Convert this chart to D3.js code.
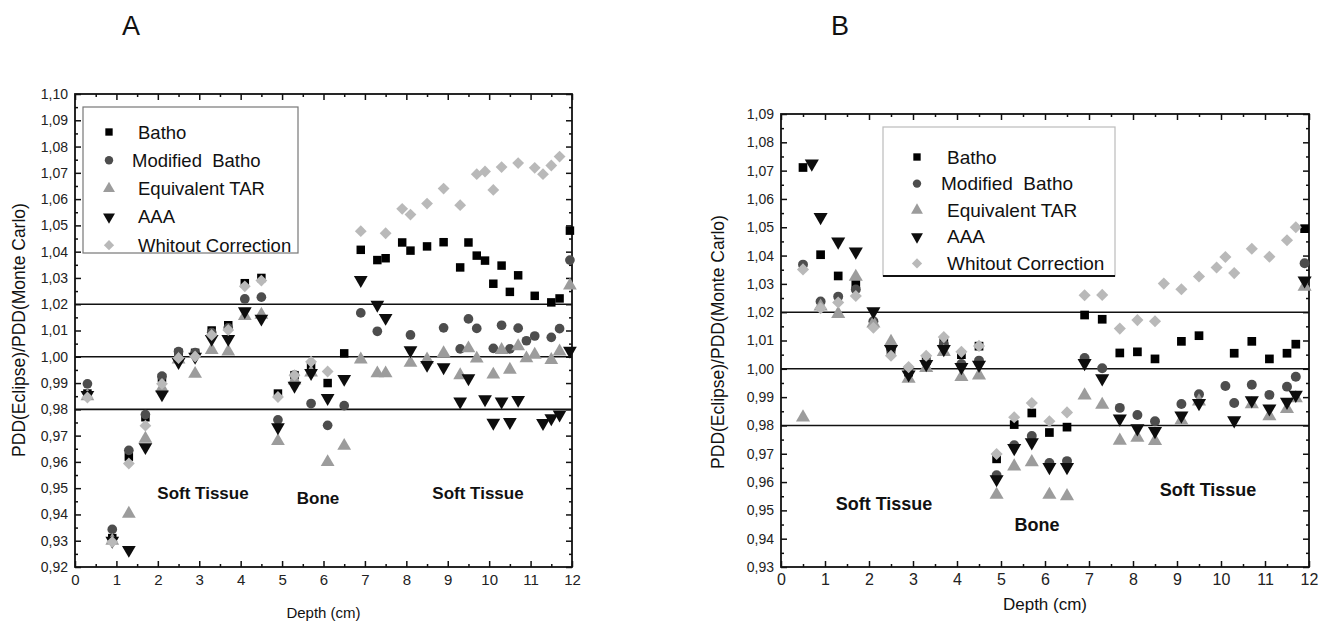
<!DOCTYPE html>
<html>
<head>
<meta charset="utf-8">
<script src="https://cdn.jsdelivr.net/npm/d3@7"></script>
<style>
  body { margin: 0; background: #fff; }
  svg text { font-family: "Liberation Sans", Arial, sans-serif; white-space: pre; }
</style>
</head>
<body>
<svg id="chart" width="1324" height="627"></svg>
<script>
// ---- data: [depth (cm), PDD(Eclipse)/PDD(Monte Carlo)] ----
const seriesNames = ["Batho", "Modified  Batho", "Equivalent TAR", "AAA", "Whitout Correction"];

// panel A
const aBatho = [[0.3,0.986],[0.9,0.931],[1.3,0.962],[1.7,0.977],[2.1,0.992],[2.5,1.0015],[2.9,1.0015],[3.3,1.010],[3.7,1.012],[4.1,1.028],[4.5,1.030],[4.9,0.986],[5.3,0.993],[5.7,0.9965],[6.1,0.990],[6.5,1.0013],[6.9,1.0407],[7.3,1.0368],[7.5,1.0375],[7.9,1.0435],[8.1,1.0404],[8.5,1.042],[8.9,1.0436],[9.3,1.034],[9.5,1.0435],[9.7,1.0385],[9.9,1.0366],[10.1,1.0278],[10.3,1.0347],[10.5,1.0247],[10.7,1.031],[11.1,1.0232],[11.5,1.0207],[11.7,1.0222],[11.95,1.048]];
const aModBatho = [[0.3,0.9897],[0.9,0.9343],[1.3,0.9644],[1.7,0.978],[2.1,0.9926],[2.5,1.002],[2.9,1.0016],[3.3,1.0092],[3.7,1.011],[4.1,1.022],[4.5,1.0227],[4.9,0.976],[5.3,0.993],[5.7,0.9822],[6.1,0.9739],[6.5,0.9814],[6.9,1.0167],[7.3,1.0097],[8.1,1.0083],[8.9,1.011],[9.3,1.003],[9.5,1.0144],[9.7,1.0108],[10.1,1.0032],[10.3,1.012],[10.5,1.003],[10.7,1.0109],[10.9,1.0061],[11.1,1.0079],[11.5,1.0074],[11.7,1.0107],[11.95,1.0368]];
const aEqTAR = [[0.3,0.985],[0.9,0.930],[1.3,0.9403],[1.7,0.9688],[2.1,0.988],[2.5,0.999],[2.9,0.9935],[3.3,1.0026],[3.7,1.002],[4.1,1.0155],[4.5,1.016],[4.9,0.9679],[5.3,0.991],[5.7,0.994],[6.1,0.9599],[6.5,0.9661],[6.9,0.999],[7.3,0.9937],[7.5,0.9937],[8.1,0.9977],[8.5,0.999],[8.9,1.0014],[9.3,0.993],[9.5,1.0032],[9.7,0.9993],[10.1,0.9932],[10.3,1.0026],[10.5,0.9951],[10.7,1.004],[10.9,0.9994],[11.1,1.0008],[11.5,0.9988],[11.7,1.002],[11.95,1.0271]];
const aAAA = [[0.3,0.9855],[0.9,0.930],[1.3,0.9265],[1.7,0.9656],[2.1,0.9857],[2.5,0.998],[2.9,1.0],[3.3,1.0068],[3.7,1.0068],[4.1,1.0173],[4.5,1.0145],[4.9,0.9732],[5.3,0.989],[5.7,0.9938],[6.1,0.9843],[6.5,0.9916],[6.9,1.0292],[7.3,1.0198],[7.5,1.0148],[8.1,1.0025],[8.5,0.9969],[8.9,0.996],[9.3,0.983],[9.5,0.9918],[9.9,0.9838],[10.1,0.9749],[10.3,0.983],[10.5,0.9752],[10.7,0.9836],[11.3,0.9748],[11.5,0.9766],[11.7,0.978],[11.95,1.0023]];
const aNoCorr = [[0.3,0.9845],[0.9,0.9295],[1.3,0.9594],[1.7,0.9738],[2.1,0.9897],[2.5,0.9995],[2.9,1.0001],[3.3,1.0083],[3.7,1.0102],[4.1,1.0268],[4.5,1.029],[4.9,0.9847],[5.3,0.993],[5.7,0.9981],[6.1,0.9944],[6.9,1.0478],[7.5,1.047],[7.9,1.0563],[8.1,1.0541],[8.5,1.0583],[8.9,1.064],[9.3,1.0577],[9.7,1.0695],[9.9,1.0705],[10.1,1.0635],[10.3,1.0722],[10.7,1.0737],[11.1,1.0719],[11.3,1.0695],[11.5,1.0728],[11.7,1.0762]];

// panel B
const bBatho = [[0.5,1.0711],[0.9,1.0403],[1.3,1.0328],[1.7,1.0301],[2.1,1.016],[2.5,1.0064],[2.9,0.9988],[3.3,1.003],[3.7,1.0093],[4.1,1.005],[4.5,1.008],[4.9,0.9682],[5.3,0.9803],[5.7,0.9844],[6.1,0.9775],[6.5,0.9794],[6.9,1.019],[7.3,1.0175],[7.7,1.0056],[8.1,1.006],[8.5,1.0035],[9.1,1.0097],[9.5,1.0117],[10.3,1.0055],[10.7,1.0097],[11.1,1.0035],[11.5,1.0055],[11.7,1.0087],[11.9,1.0495]];
const bModBatho = [[0.5,1.0368],[0.9,1.0238],[1.3,1.0255],[1.7,1.028],[2.1,1.0168],[2.5,1.007],[2.9,1.0],[3.3,1.0023],[3.7,1.0087],[4.1,1.0017],[4.5,1.0029],[4.9,0.9624],[5.3,0.973],[5.7,0.9763],[6.1,0.9667],[6.5,0.9674],[6.9,1.0038],[7.3,1.0002],[7.7,0.9862],[8.1,0.9837],[8.5,0.9815],[9.1,0.9876],[9.5,0.991],[10.1,0.9939],[10.3,0.9879],[10.7,0.9944],[11.1,0.9908],[11.5,0.9937],[11.7,0.9972],[11.9,1.0373]];
const bEqTAR = [[0.5,0.9828],[0.9,1.022],[1.3,1.0194],[1.7,1.0325],[2.1,1.016],[2.5,1.0095],[2.9,0.9965],[3.3,1.0003],[3.7,1.006],[4.1,0.9971],[4.5,0.9977],[4.9,0.9555],[5.3,0.9655],[5.7,0.967],[6.1,0.9555],[6.5,0.955],[6.9,0.9906],[7.3,0.9873],[7.7,0.9746],[8.1,0.9757],[8.5,0.9745],[9.1,0.9818],[9.5,0.9885],[10.7,0.9875],[11.1,0.9833],[11.5,0.9858],[11.7,0.9896],[11.9,1.029]];
const bAAA = [[0.7,1.0725],[0.9,1.0536],[1.3,1.0449],[1.7,1.0414],[2.1,1.0203],[2.5,1.007],[2.9,0.998],[3.3,1.0017],[3.7,1.007],[4.1,1.0006],[4.5,1.0014],[4.9,0.961],[5.3,0.972],[5.7,0.974],[6.1,0.9653],[6.5,0.9653],[6.9,1.002],[7.3,0.9966],[7.7,0.9824],[8.1,0.979],[8.5,0.978],[9.1,0.9835],[9.5,0.9879],[10.3,0.9818],[10.7,0.9889],[11.1,0.986],[11.5,0.9883],[11.7,0.9908],[11.9,1.0312]];
const bNoCorr = [[0.5,1.0351],[0.9,1.0214],[1.3,1.0234],[1.7,1.0257],[2.1,1.0145],[2.5,1.0046],[2.9,1.0006],[3.3,1.0046],[3.7,1.0112],[4.1,1.006],[4.5,1.0081],[4.9,0.9699],[5.3,0.9829],[5.7,0.9879],[6.1,0.9815],[6.5,0.9846],[6.9,1.026],[7.3,1.0261],[7.7,1.0142],[8.1,1.0172],[8.5,1.0168],[8.7,1.0301],[9.1,1.0281],[9.5,1.0326],[9.9,1.0358],[10.1,1.0395],[10.3,1.0338],[10.7,1.0424],[11.1,1.0396],[11.5,1.0454],[11.7,1.05]];

const refLines = [0.98, 1.00, 1.02];
const xTicks = d3.range(0, 13, 1);

// marker look for each series, same order as seriesNames
const markerType = [d3.symbolSquare, d3.symbolCircle, d3.symbolTriangle, d3.symbolTriangle, d3.symbolSquare];
const markerRot = [0, 0, 0, 180, 45];
const markerSize = [72, 74, 82, 82, 70];
const markerColor = ["#000", "#4d4d4d", "#9c9c9c", "#0d0d0d", "#b9b9b9"];

const svg = d3.select("#chart");
const comma = d => d3.format(".2f")(d).replace(".", ",");

function drawPanel(p) {
  const x = d3.scaleLinear().domain([0, 12]).range([p.left, p.right]);
  const y = d3.scaleLinear().domain(p.yDomain).range([p.bottom, p.top]);
  const g = svg.append("g");

  const yMajor = d3.range(Math.round(p.yDomain[0] * 100), Math.round(p.yDomain[1] * 100) + 1).map(v => v / 100);
  const yMinor = yMajor.slice(0, -1).map(v => v + 0.005);
  const xMinor = d3.range(0.5, 12, 1);

  // ticks on all four sides, pointing into the plot
  const ax = [
    [d3.axisBottom(x).tickValues(xTicks).tickFormat(d => d), `translate(0,${p.bottom})`, true, p.xTickFont],
    [d3.axisBottom(x).tickValues(xMinor).tickFormat(""), `translate(0,${p.bottom})`, false, 0],
    [d3.axisTop(x).tickValues(xTicks).tickFormat(""), `translate(0,${p.top})`, true, 0],
    [d3.axisTop(x).tickValues(xMinor).tickFormat(""), `translate(0,${p.top})`, false, 0],
    [d3.axisLeft(y).tickValues(yMajor).tickFormat(comma), `translate(${p.left},0)`, true, p.yTickFont],
    [d3.axisLeft(y).tickValues(yMinor).tickFormat(""), `translate(${p.left},0)`, false, 0],
    [d3.axisRight(y).tickValues(yMajor).tickFormat(""), `translate(${p.right},0)`, true, 0],
    [d3.axisRight(y).tickValues(yMinor).tickFormat(""), `translate(${p.right},0)`, false, 0]
  ];
  ax.forEach(([a, tr, major, font]) => {
    const s = g.append("g").attr("transform", tr)
      .call(a.tickSizeInner(major ? -6 : -3).tickSizeOuter(0).tickPadding(major ? 7 : 0));
    s.select(".domain").remove();
    s.selectAll("line").attr("stroke", "#111").attr("stroke-width", 1.5);
    s.selectAll("text").attr("fill", "#222").style("font-size", font + "px");
  });

  // reference lines
  g.selectAll(".ref").data(refLines).join("line")
    .attr("x1", p.left).attr("x2", p.right)
    .attr("y1", d => y(d)).attr("y2", d => y(d))
    .attr("stroke", "#111").attr("stroke-width", 1.6);

  // frame
  g.append("rect")
    .attr("x", p.left).attr("y", p.top)
    .attr("width", p.right - p.left).attr("height", p.bottom - p.top)
    .attr("fill", "none").attr("stroke", "#111").attr("stroke-width", 1.8);

  // points
  p.series.forEach((data, i) => {
    g.append("g").selectAll("path").data(data).join("path")
      .attr("d", d3.symbol().type(markerType[i]).size(markerSize[i] * p.mScale))
      .attr("transform", d => `translate(${x(d[0])},${y(d[1])}) rotate(${markerRot[i]})`)
      .attr("fill", markerColor[i]);
  });

  // region labels
  p.regions.forEach(r => {
    g.append("text").attr("x", r[1]).attr("y", r[2])
      .attr("text-anchor", "middle").attr("dominant-baseline", "central")
      .style("font-size", p.regionFont + "px").style("font-weight", "bold")
      .attr("fill", "#111").text(r[0]);
  });

  // legend
  const L = p.legend;
  const lg = g.append("g");
  lg.append("rect").attr("x", L.x).attr("y", L.y).attr("width", L.w).attr("height", L.h)
    .attr("fill", "#fff").attr("stroke", L.stroke).attr("stroke-width", 1.2);
  if (L.underline) {
    lg.append("line").attr("x1", L.x).attr("x2", L.x + L.w)
      .attr("y1", L.y + L.h).attr("y2", L.y + L.h)
      .attr("stroke", "#111").attr("stroke-width", 1.8);
  }
  seriesNames.forEach((name, i) => {
    const yy = L.y + L.first + i * L.step;
    lg.append("path")
      .attr("d", d3.symbol().type(markerType[i]).size(markerSize[i] * 0.75))
      .attr("transform", `translate(${L.mx},${yy}) rotate(${markerRot[i]})`)
      .attr("fill", markerColor[i]);
    lg.append("text").attr("x", i === 1 ? L.tx - 6 : L.tx).attr("y", yy)
      .attr("dominant-baseline", "central")
      .style("font-size", L.font + "px").attr("fill", "#111").text(name);
  });

  // axis titles and panel letter
  g.append("text").attr("x", (p.left + p.right) / 2).attr("y", p.xTitleY)
    .attr("text-anchor", "middle").attr("dominant-baseline", "central")
    .style("font-size", p.titleFont + "px").attr("fill", "#111").text("Depth (cm)");
  g.append("text")
    .attr("transform", `translate(${p.yTitleX},${p.yTitleY}) rotate(-90)`)
    .attr("text-anchor", "middle").attr("dominant-baseline", "central")
    .style("font-size", p.yTitleFont + "px").attr("fill", "#111")
    .text("PDD(Eclipse)/PDD(Monte Carlo)");
  g.append("text").attr("x", p.letter[1]).attr("y", p.letter[2])
    .attr("text-anchor", "middle").attr("dominant-baseline", "central")
    .style("font-size", "27px").attr("fill", "#111").text(p.letter[0]);
}

drawPanel({
  left: 75, right: 572, top: 94, bottom: 567, yDomain: [0.92, 1.10],
  series: [aBatho, aModBatho, aEqTAR, aAAA, aNoCorr], mScale: 1,
  xTickFont: 15, yTickFont: 14, regionFont: 17, titleFont: 15, yTitleFont: 17.5,
  xTitleY: 612, yTitleX: 19, yTitleY: 330,
  regions: [["Soft Tissue", 203, 493], ["Bone", 318, 498], ["Soft Tissue", 478, 493]],
  legend: { x: 83, y: 107, w: 215, h: 146, first: 25, step: 28.3, mx: 109, tx: 138, font: 18.5, stroke: "#777" },
  letter: ["A", 131, 26]
});

drawPanel({
  left: 781, right: 1309, top: 114, bottom: 567, yDomain: [0.93, 1.09],
  series: [bBatho, bModBatho, bEqTAR, bAAA, bNoCorr], mScale: 1.05,
  xTickFont: 16, yTickFont: 14, regionFont: 18, titleFont: 17, yTitleFont: 17.5,
  xTitleY: 604, yTitleX: 718, yTitleY: 342,
  regions: [["Soft Tissue", 884, 504], ["Bone", 1037, 525], ["Soft Tissue", 1208, 490]],
  legend: { x: 883, y: 127, w: 232, h: 149, first: 30, step: 26.6, mx: 917, tx: 947, font: 19, stroke: "#bbb", underline: true },
  letter: ["B", 840, 26]
});
</script>
</body>
</html>
